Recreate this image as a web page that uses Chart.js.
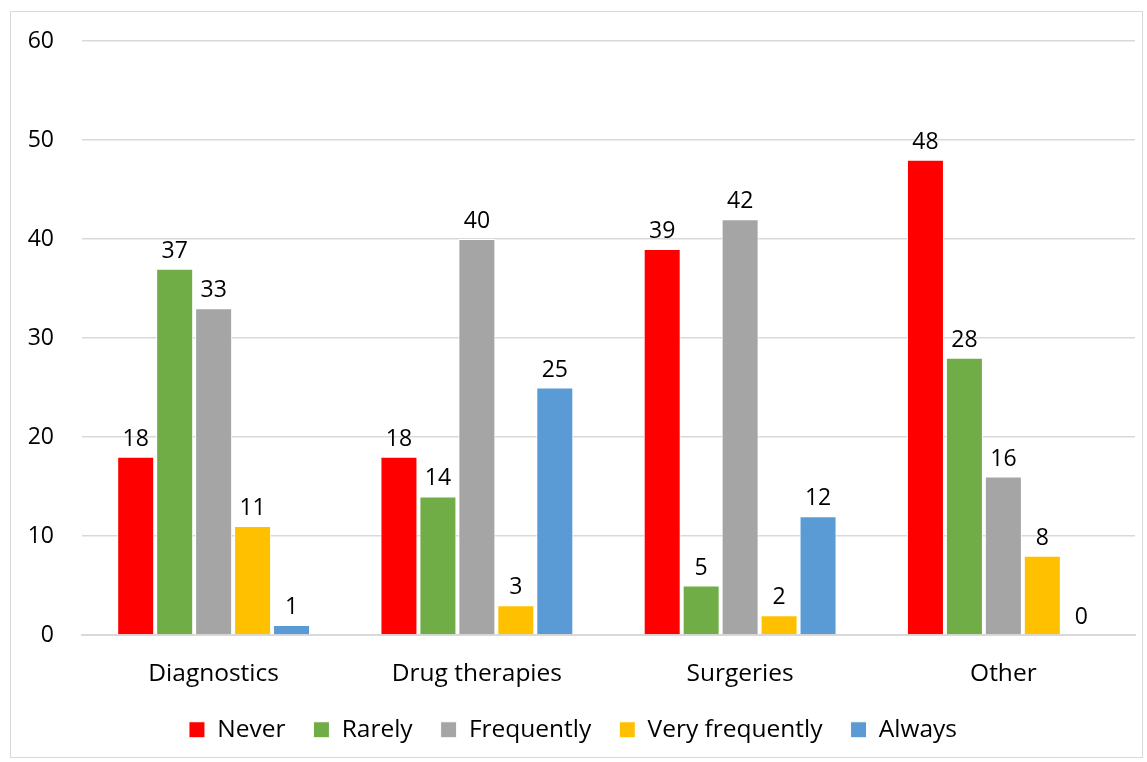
<!DOCTYPE html>
<html>
<head>
<meta charset="utf-8">
<script src="https://cdn.jsdelivr.net/npm/chart.js@4/dist/chart.umd.min.js"></script>
<style>
  html, body { margin: 0; padding: 0; background: #fff; }
  #box { position: absolute; left: 10px; top: 11px; width: 1133px; height: 747px; border: 1px solid #d9d9d9; box-sizing: border-box; }
  canvas { display: block; }
</style>
</head>
<body>
<div id="box"><canvas id="chart"></canvas></div>
<script>
const categories = ['Diagnostics', 'Drug therapies', 'Surgeries', 'Other'];
const never = [18, 18, 39, 48];
const rarely = [37, 14, 5, 28];
const frequently = [33, 40, 42, 16];
const veryFrequently = [11, 3, 2, 8];
const always = [1, 25, 12, 0];
const yTicks = [0, 10, 20, 30, 40, 50, 60];

const font = 'Open Sans';

// numbers over the bars
const barLabels = {
    id: 'barLabels',
    afterDatasetsDraw(chart) {
        const c = chart.ctx;
        c.save();
        c.font = '23px "' + font + '"';
        c.fillStyle = '#000';
        c.textAlign = 'center';
        c.textBaseline = 'bottom';
        chart.data.datasets.forEach(function(ds, i) {
            chart.getDatasetMeta(i).data.forEach(function(bar, j) {
                c.fillText(ds.data[j], bar.x, bar.y - 6);
            });
        });
        c.restore();
    }
};

window.addEventListener('load', function(){
    const ctx = document.getElementById('chart');
    const mk = function(label, data, color) {
        return { label: label, data: data, backgroundColor: color, borderColor: '#fff', borderWidth: 1, barPercentage: 0.95, categoryPercentage: 0.74 };
    };
    new Chart(ctx, {
        type: 'bar',
        data: {
            labels: categories,
            datasets: [
                mk('Never', never, '#ff0000'),
                mk('Rarely', rarely, '#70ad47'),
                mk('Frequently', frequently, '#a5a5a5'),
                mk('Very frequently', veryFrequently, '#ffc000'),
                mk('Always', always, '#5b9bd5')
            ]
        },
        plugins: [barLabels],
        options: {
            responsive: true,
            maintainAspectRatio: false,
            animation: false,
            layout: { padding: { top: 1, right: 7, left: 0, bottom: 5 } },
            plugins: {
                tooltip: { enabled: false },
                legend: {
                    position: 'bottom',
                    labels: {
                        boxWidth: 16, boxHeight: 16, padding: 28,
                        color: '#000',
                        font: { family: font, size: 24.5 }
                    }
                }
            },
            scales: {
                x: {
                    grid: { display: false },
                    border: { color: '#d9d9d9', width: 2 },
                    ticks: { color: '#000', font: { family: font, size: 24.5 }, padding: 16 },
                    afterFit: function(axis) { axis.height = 54.5; }
                },
                y: {
                    min: 0, max: 60,
                    afterBuildTicks: function(axis) { axis.ticks = yTicks.map(function(v){ return { value: v }; }); },
                    afterFit: function(axis) { axis.width = 71; axis.paddingTop = 29; },
                    grid: { color: '#d9d9d9', lineWidth: 1.5, drawTicks: false },
                    border: { display: false },
                    ticks: { color: '#000', font: { family: font, size: 23 }, padding: 28 }
                }
            }
        }
    });
});
</script>
</body>
</html>
